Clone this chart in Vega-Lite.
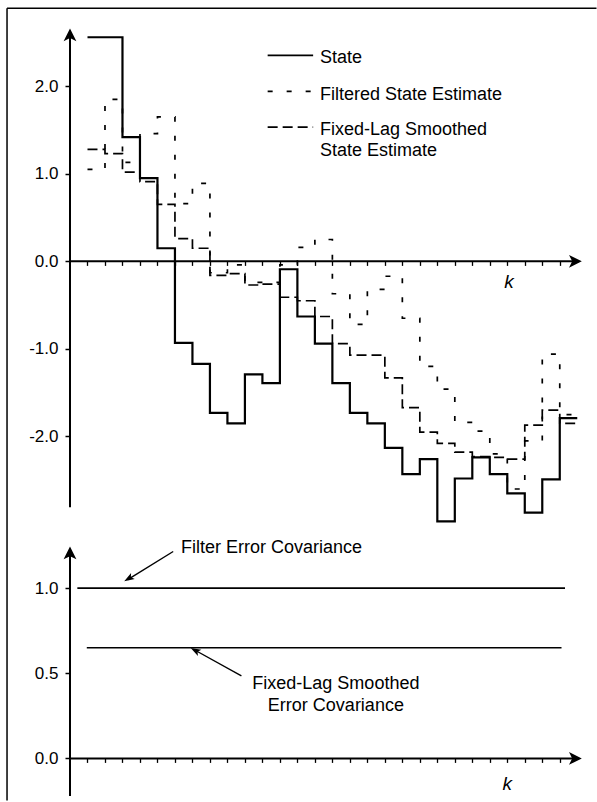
{
  "$schema": "https://vega.github.io/schema/vega-lite/v6.json",
  "padding": {"left": 6, "top": 7, "right": 0, "bottom": 0},
  "spacing": 13,
  "bounds": "flush",
  "config": {"view": {"stroke": null}, "font": "Liberation Sans", "axis": {"grid": false}},
  "datasets": {
    "est": [
      {"k": 1, "v": 2.56, "s": "State"}, {"k": 2, "v": 2.56, "s": "State"}, {"k": 3, "v": 1.42, "s": "State"},
      {"k": 4, "v": 0.95, "s": "State"}, {"k": 5, "v": 0.15, "s": "State"}, {"k": 6, "v": -0.93, "s": "State"},
      {"k": 7, "v": -1.17, "s": "State"}, {"k": 8, "v": -1.73, "s": "State"}, {"k": 9, "v": -1.85, "s": "State"},
      {"k": 10, "v": -1.29, "s": "State"}, {"k": 11, "v": -1.39, "s": "State"}, {"k": 12, "v": -0.09, "s": "State"},
      {"k": 13, "v": -0.63, "s": "State"}, {"k": 14, "v": -0.94, "s": "State"}, {"k": 15, "v": -1.39, "s": "State"},
      {"k": 16, "v": -1.73, "s": "State"}, {"k": 17, "v": -1.85, "s": "State"}, {"k": 18, "v": -2.13, "s": "State"},
      {"k": 19, "v": -2.43, "s": "State"}, {"k": 20, "v": -2.26, "s": "State"}, {"k": 21, "v": -2.97, "s": "State"},
      {"k": 22, "v": -2.48, "s": "State"}, {"k": 23, "v": -2.24, "s": "State"}, {"k": 24, "v": -2.43, "s": "State"},
      {"k": 25, "v": -2.65, "s": "State"}, {"k": 26, "v": -2.87, "s": "State"}, {"k": 27, "v": -2.49, "s": "State"},
      {"k": 28, "v": -1.79, "s": "State"}, {"k": 29, "v": -1.79, "s": "State"},
      {"k": 1, "v": 1.05, "s": "Filtered"}, {"k": 2, "v": 1.85, "s": "Filtered"}, {"k": 3, "v": 1.13, "s": "Filtered"},
      {"k": 4, "v": 1.46, "s": "Filtered"}, {"k": 5, "v": 1.65, "s": "Filtered"}, {"k": 6, "v": 0.66, "s": "Filtered"},
      {"k": 7, "v": 0.89, "s": "Filtered"}, {"k": 8, "v": -0.13, "s": "Filtered"}, {"k": 9, "v": -0.04, "s": "Filtered"},
      {"k": 10, "v": -0.24, "s": "Filtered"}, {"k": 11, "v": -0.24, "s": "Filtered"}, {"k": 12, "v": -0.04, "s": "Filtered"},
      {"k": 13, "v": 0.16, "s": "Filtered"}, {"k": 14, "v": 0.25, "s": "Filtered"}, {"k": 15, "v": -0.37, "s": "Filtered"},
      {"k": 16, "v": -0.72, "s": "Filtered"}, {"k": 17, "v": -0.32, "s": "Filtered"}, {"k": 18, "v": -0.17, "s": "Filtered"},
      {"k": 19, "v": -0.65, "s": "Filtered"}, {"k": 20, "v": -1.2, "s": "Filtered"}, {"k": 21, "v": -1.46, "s": "Filtered"},
      {"k": 22, "v": -1.84, "s": "Filtered"}, {"k": 23, "v": -1.94, "s": "Filtered"}, {"k": 24, "v": -2.2, "s": "Filtered"},
      {"k": 25, "v": -2.6, "s": "Filtered"}, {"k": 26, "v": -2.05, "s": "Filtered"}, {"k": 27, "v": -1.06, "s": "Filtered"},
      {"k": 28, "v": -1.75, "s": "Filtered"}, {"k": 29, "v": -1.75, "s": "Filtered"},
      {"k": 1, "v": 1.28, "s": "Smoothed"}, {"k": 2, "v": 1.23, "s": "Smoothed"}, {"k": 3, "v": 1.02, "s": "Smoothed"},
      {"k": 4, "v": 0.91, "s": "Smoothed"}, {"k": 5, "v": 0.65, "s": "Smoothed"}, {"k": 6, "v": 0.26, "s": "Smoothed"},
      {"k": 7, "v": 0.15, "s": "Smoothed"}, {"k": 8, "v": -0.16, "s": "Smoothed"}, {"k": 9, "v": -0.14, "s": "Smoothed"},
      {"k": 10, "v": -0.27, "s": "Smoothed"}, {"k": 11, "v": -0.26, "s": "Smoothed"}, {"k": 12, "v": -0.41, "s": "Smoothed"},
      {"k": 13, "v": -0.45, "s": "Smoothed"}, {"k": 14, "v": -0.63, "s": "Smoothed"}, {"k": 15, "v": -0.94, "s": "Smoothed"},
      {"k": 16, "v": -1.07, "s": "Smoothed"}, {"k": 17, "v": -1.07, "s": "Smoothed"}, {"k": 18, "v": -1.33, "s": "Smoothed"},
      {"k": 19, "v": -1.67, "s": "Smoothed"}, {"k": 20, "v": -1.95, "s": "Smoothed"}, {"k": 21, "v": -2.08, "s": "Smoothed"},
      {"k": 22, "v": -2.18, "s": "Smoothed"}, {"k": 23, "v": -2.23, "s": "Smoothed"}, {"k": 24, "v": -2.24, "s": "Smoothed"},
      {"k": 25, "v": -2.26, "s": "Smoothed"}, {"k": 26, "v": -1.87, "s": "Smoothed"}, {"k": 27, "v": -1.7, "s": "Smoothed"},
      {"k": 28, "v": -1.85, "s": "Smoothed"}, {"k": 29, "v": -1.85, "s": "Smoothed"}
    ]
  },
  "vconcat": [
    {
      "width": 516,
      "height": 499,
      "encoding": {
        "x": {"field": "k", "type": "quantitative", "scale": {"domain": [0, 29.5], "nice": false, "zero": false},
          "axis": {"values": [1,2,3,4,5,6,7,8,9,10,11,12,13,14,15,16,17,18,19,20,21,22,23,24,25,26,27,28], "offset": -262.6, "domain": false, "labels": false, "tickSize": 4, "tickWidth": 1.3, "tickColor": "black", "title": null, "grid": false}},
        "y": {"field": "v", "type": "quantitative", "scale": {"domain": [-3.0, 2.7], "nice": false, "zero": false},
          "axis": {"values": [-2, -1, 0, 1, 2], "domain": false, "tickSize": 5, "tickWidth": 1.5, "tickColor": "black", "labelExpr": "(datum.value < 0 ? '-' : '') + format(abs(datum.value), '.1f')", "labelFont": "Liberation Sans", "labelFontSize": 17, "labelColor": "black", "labelPadding": 7, "title": null, "grid": false}}
      },
      "layer": [
        {"data": {"values": [{"k": -3.6, "k2": 30.1, "v": 2.89, "v2": 2.89}, {"k": -3.6, "k2": -3.6, "v": 2.89, "v2": -6.157}]},
         "mark": {"type": "rule", "stroke": "black", "strokeWidth": 1.5},
         "encoding": {"x2": {"field": "k2"}, "y2": {"field": "v2"}}},
        {"data": {"values": [{"k": 0, "k2": 0, "v": -2.81, "v2": 2.6}, {"k": 0, "k2": 29.1, "v": 0, "v2": 0}]},
         "mark": {"type": "rule", "stroke": "black", "strokeWidth": 2},
         "encoding": {"x2": {"field": "k2"}, "y2": {"field": "v2"}}},
        {"data": {"values": [{"k": 0, "v": 2.66}]},
         "mark": {"type": "point", "shape": "M0,0L0.8,1.6L0,1.2L-0.8,1.6Z", "filled": true, "color": "black", "opacity": 1, "size": 256}},
        {"data": {"values": [{"k": 29.26, "v": 0}]},
         "mark": {"type": "point", "shape": "M0,0L-1.6,-0.8L-1.2,0L-1.6,0.8Z", "filled": true, "color": "black", "opacity": 1, "size": 256}},
        {"data": {"name": "est"}, "transform": [{"filter": "datum.s == 'Filtered'"}],
         "mark": {"type": "line", "interpolate": "step-after", "stroke": "black", "strokeWidth": 1.7, "strokeDash": [5, 14]}},
        {"data": {"name": "est"}, "transform": [{"filter": "datum.s == 'Smoothed'"}],
         "mark": {"type": "line", "interpolate": "step-after", "stroke": "black", "strokeWidth": 1.7, "strokeDash": [10, 5]}},
        {"data": {"name": "est"}, "transform": [{"filter": "datum.s == 'State'"}],
         "mark": {"type": "line", "interpolate": "step-after", "stroke": "black", "strokeWidth": 2.2}},
        {"data": {"values": [{"k": 11.3, "k2": 13.9, "v": 2.354}]},
         "mark": {"type": "rule", "stroke": "black", "strokeWidth": 1.7},
         "encoding": {"x2": {"field": "k2"}}},
        {"data": {"values": [{"k": 11.3, "k2": 13.9, "v": 1.942}]},
         "mark": {"type": "rule", "stroke": "black", "strokeWidth": 1.7, "strokeDash": [5, 14]},
         "encoding": {"x2": {"field": "k2"}}},
        {"data": {"values": [{"k": 11.3, "k2": 13.9, "v": 1.534}]},
         "mark": {"type": "rule", "stroke": "black", "strokeWidth": 1.7, "strokeDash": [10, 5]},
         "encoding": {"x2": {"field": "k2"}}},
        {"data": {"values": [
            {"k": 14.29, "v": 2.262, "t": "State"},
            {"k": 14.29, "v": 1.84, "t": "Filtered State Estimate"},
            {"k": 14.29, "v": 1.44, "t": "Fixed-Lag Smoothed"},
            {"k": 14.29, "v": 1.2, "t": "State Estimate"}]},
         "mark": {"type": "text", "align": "left", "baseline": "alphabetic", "font": "Liberation Sans", "fontSize": 18, "color": "black"},
         "encoding": {"text": {"field": "t"}}},
        {"data": {"values": [{"k": 25.1, "v": -0.24, "t": "k"}]},
         "mark": {"type": "text", "align": "center", "baseline": "middle", "font": "Liberation Sans", "fontSize": 19, "fontStyle": "italic", "color": "black"},
         "encoding": {"text": {"field": "t"}}}
      ]
    },
    {
      "width": 516,
      "height": 264,
      "encoding": {
        "x": {"field": "k", "type": "quantitative", "scale": {"domain": [0, 29.5], "nice": false, "zero": false},
          "axis": {"values": [1,2,3,4,5,6,7,8,9,10,11,12,13,14,15,16,17,18,19,20,21,22,23,24,25,26,27,28], "offset": -42.6, "domain": false, "labels": false, "tickSize": 4, "tickWidth": 1.3, "tickColor": "black", "title": null, "grid": false}},
        "y": {"field": "v", "type": "quantitative", "scale": {"domain": [-0.25, 1.3], "nice": false, "zero": false},
          "axis": {"values": [0, 0.5, 1], "domain": false, "tickSize": 5, "tickWidth": 1.5, "tickColor": "black", "format": ".1f", "labelFont": "Liberation Sans", "labelFontSize": 17, "labelColor": "black", "labelPadding": 7, "title": null, "grid": false}}
      },
      "layer": [
        {"data": {"values": [{"k": 0, "k2": 0, "v": -0.22, "v2": 1.2}, {"k": 0, "k2": 29.1, "v": 0, "v2": 0}]},
         "mark": {"type": "rule", "stroke": "black", "strokeWidth": 2},
         "encoding": {"x2": {"field": "k2"}, "y2": {"field": "v2"}}},
        {"data": {"values": [{"k": 0, "v": 1.244}]},
         "mark": {"type": "point", "shape": "M0,0L0.8,1.6L0,1.2L-0.8,1.6Z", "filled": true, "color": "black", "opacity": 1, "size": 256}},
        {"data": {"values": [{"k": 29.26, "v": 0}]},
         "mark": {"type": "point", "shape": "M0,0L-1.6,-0.8L-1.2,0L-1.6,0.8Z", "filled": true, "color": "black", "opacity": 1, "size": 256}},
        {"data": {"values": [{"k": 0.42, "k2": 28.3, "v": 1.0}, {"k": 0.96, "k2": 28.1, "v": 0.65}]},
         "mark": {"type": "rule", "stroke": "black", "strokeWidth": 1.6},
         "encoding": {"x2": {"field": "k2"}}},
        {"data": {"values": [{"k": 5.9, "k2": 3.3, "v": 1.215, "v2": 1.05}, {"k": 9.8, "k2": 7.05, "v": 0.485, "v2": 0.641}]},
         "mark": {"type": "rule", "stroke": "black", "strokeWidth": 1.4},
         "encoding": {"x2": {"field": "k2"}, "y2": {"field": "v2"}}},
        {"data": {"values": [{"k": 3.1, "v": 1.04}]},
         "mark": {"type": "point", "shape": "M0,0L0.6,1.7L0,1.3L-0.6,1.7Z", "filled": true, "color": "black", "opacity": 1, "size": 144, "angle": 238.7}},
        {"data": {"values": [{"k": 6.9, "v": 0.648}]},
         "mark": {"type": "point", "shape": "M0,0L0.6,1.7L0,1.3L-0.6,1.7Z", "filled": true, "color": "black", "opacity": 1, "size": 144, "angle": 298.6}},
        {"data": {"values": [{"k": 6.35, "v": 1.235, "t": "Filter Error Covariance"}]},
         "mark": {"type": "text", "align": "left", "baseline": "middle", "font": "Liberation Sans", "fontSize": 18, "color": "black"},
         "encoding": {"text": {"field": "t"}}},
        {"data": {"values": [{"k": 15.2, "v": 0.437, "t": "Fixed-Lag Smoothed"}, {"k": 15.2, "v": 0.306, "t": "Error Covariance"}]},
         "mark": {"type": "text", "align": "center", "baseline": "middle", "font": "Liberation Sans", "fontSize": 18, "color": "black"},
         "encoding": {"text": {"field": "t"}}},
        {"data": {"values": [{"k": 25.0, "v": -0.15, "t": "k"}]},
         "mark": {"type": "text", "align": "center", "baseline": "middle", "font": "Liberation Sans", "fontSize": 19, "fontStyle": "italic", "color": "black"},
         "encoding": {"text": {"field": "t"}}}
      ]
    }
  ]
}
